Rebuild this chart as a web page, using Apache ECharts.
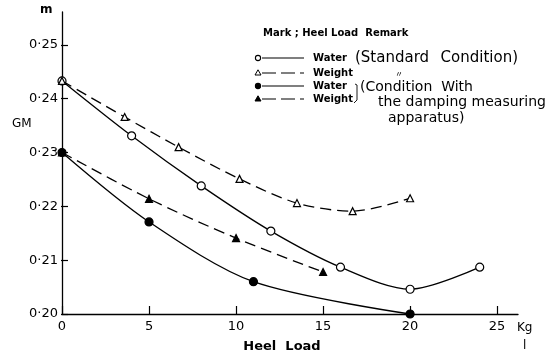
<!DOCTYPE html>
<html><head><meta charset="utf-8">
<script src="https://cdn.jsdelivr.net/npm/echarts@6/dist/echarts.min.js"></script>
<style>html,body{margin:0;padding:0;background:#fff}#c{width:549px;height:357px}</style>
</head><body><div id="c"></div>
<script>
// Data
const waterStd = [[0,0.2433],[4,0.2331],[8,0.2238],[12,0.2154],[16,0.2087],[20,0.2046],[24,0.2087]];
const weightStd = [[0,0.2433],[3.6,0.2366],[6.7,0.2310],[10.2,0.2251],[13.5,0.2206],[16.7,0.2191],[20,0.2215]];
const waterDamp = [[0,0.2300],[5,0.2171],[11,0.2060],[20,0.2000]];
const weightDamp = [[0,0.2300],[5,0.2214],[10,0.2141],[15,0.2078]];
const xTicks = [0,5,10,15,20,25];
const yTicks = [0.20,0.21,0.22,0.23,0.24,0.25];

const FONT = 'DejaVu Sans';
const GRID = {left:62, right:31, top:12, bottom:43};
const W = 549, H = 357;
const X_MAX = 26.2, Y_MIN = 0.20, Y_MAX = 0.2561;
const chart = echarts.init(document.getElementById('c'));
const tri = 'path://M0,-10L8.66,5L-8.66,5Z';
function ser(name, data, dashed, symbol, filled, size){
  return {name, type:'line', data, smooth:0.3, clip:false,
    lineStyle:{color:'#000', width:1.3, type: dashed ? [11,6] : 'solid'},
    symbol, symbolSize:size, showAllSymbol:true,
    itemStyle:{color: filled ? '#000' : '#fff', borderColor:'#000', borderWidth:1.2},
    z: 3};
}
const legendRows = [
  {y:58, dashed:false, symbol:'circle', filled:false, label:'Water'},
  {y:73, dashed:true, symbol:'tri', filled:false, label:'Weight'},
  {y:86, dashed:false, symbol:'circle', filled:true, label:'Water'},
  {y:99, dashed:true, symbol:'tri', filled:true, label:'Weight'}
];
const graphics = [];
legendRows.forEach(r=>{
  graphics.push({type:'line', shape:{x1:262,y1:r.y,x2:304,y2:r.y},
    style:{stroke:'#000', lineWidth:1.2, lineDash: r.dashed ? [14,5] : null}});
  if(r.symbol==='circle'){
    graphics.push({type:'circle', shape:{cx:258,cy:r.y,r:2.6}, style:{fill:r.filled?'#000':'#fff', stroke:'#000', lineWidth:1.1}});
  } else {
    graphics.push({type:'polygon', shape:{points:[[258,r.y-3.2],[261,r.y+2],[255,r.y+2]]}, style:{fill:r.filled?'#000':'#fff', stroke:'#000', lineWidth:1}});
  }
  graphics.push({type:'text', x:313, y:r.y, style:{text:r.label, font:'bold 10px '+FONT, fill:'#000', verticalAlign:'middle'}});
});
graphics.push(
  {type:'text', x:263, y:33, style:{text:'Mark ; Heel Load  Remark', font:'bold 10px '+FONT, fill:'#000', verticalAlign:'middle'}},
  {type:'text', x:355, y:58, style:{text:'(Standard', font:'15px '+FONT, fill:'#000', verticalAlign:'middle'}},
  {type:'text', x:518, y:58, style:{text:'Condition)', font:'15px '+FONT, fill:'#000', verticalAlign:'middle', align:'right'}},
  {type:'text', x:395, y:74, style:{text:'〃', font:'8px "Noto Sans CJK SC"', fill:'#000', verticalAlign:'middle'}},
  {type:'text', x:360, y:87, style:{text:'(Condition  With', font:'14px '+FONT, fill:'#000', verticalAlign:'middle'}},
  {type:'text', x:546, y:102, style:{text:'the damping measuring', font:'14px '+FONT, fill:'#000', verticalAlign:'middle', align:'right'}},
  {type:'text', x:388, y:118, style:{text:'apparatus)', font:'14px '+FONT, fill:'#000', verticalAlign:'middle'}},
  {type:'polyline', shape:{points:[[355,84],[357,85],[357,100],[354,103]]}, style:{stroke:'#000', lineWidth:0.9, fill:null}},
  {type:'text', x:40, y:10, style:{text:'m', font:'bold 12px '+FONT, fill:'#000', verticalAlign:'middle'}},
  {type:'text', x:12, y:124, style:{text:'GM', font:'12px '+FONT, fill:'#000', verticalAlign:'middle'}},
  {type:'text', x:282, y:347, style:{text:'Heel  Load', font:'bold 13px '+FONT, fill:'#000', verticalAlign:'middle', align:'center'}},
  {type:'text', x:517, y:328, style:{text:'Kg', font:'12px '+FONT, fill:'#000', verticalAlign:'middle'}},
  {type:'text', x:523, y:346, style:{text:'l', font:'12px '+FONT, fill:'#000', verticalAlign:'middle'}}
);

const xBase = {type:'value', min:0, max:X_MAX, interval:5, splitLine:{show:false}};
const yBase = {type:'value', min:Y_MIN, max:Y_MAX, interval:0.01, splitLine:{show:false}};
const plotBottom = H - GRID.bottom;
const gridW = W - GRID.left - GRID.right, gridH = H - GRID.top - GRID.bottom;
const xLast = xTicks[xTicks.length-1], yLast = yTicks[yTicks.length-1];
// tick-strip grids end exactly at the last tick so no extra tick appears at the axis end
const tickRight = W - (GRID.left + gridW * xLast / X_MAX);
const tickTop = GRID.top + gridH * (Y_MAX - yLast) / (Y_MAX - Y_MIN);

chart.setOption({
  animation:false,
  backgroundColor:'#fff',
  grid:[
    Object.assign({containLabel:false}, GRID),
    {left:GRID.left, right:tickRight, top:plotBottom, height:1, containLabel:false},
    {left:GRID.left-1, width:1, top:tickTop, bottom:GRID.bottom, containLabel:false}
  ],
  xAxis:[
    Object.assign({}, xBase, {gridIndex:0, position:'bottom',
      axisLine:{show:true, lineStyle:{color:'#000', width:1.3}},
      axisTick:{show:false},
      axisLabel:{color:'#000', fontFamily:FONT, fontSize:13, margin:6, showMaxLabel:false,
        formatter:v=>String(v)}}),
    Object.assign({}, xBase, {gridIndex:1, position:'top', max:xLast,
      axisLine:{show:false}, axisLabel:{show:false},
      axisTick:{show:true, inside:false, length:8, lineStyle:{color:'#000', width:1.2}}}),
    Object.assign({}, xBase, {gridIndex:2, show:false})
  ],
  yAxis:[
    Object.assign({}, yBase, {gridIndex:0, position:'left',
      axisLine:{show:true, lineStyle:{color:'#000', width:1.3}},
      axisTick:{show:false},
      axisLabel:{color:'#000', fontFamily:FONT, fontSize:13, margin:4, showMaxLabel:false,
        formatter:v=>v.toFixed(2).replace('.','·')}}),
    Object.assign({}, yBase, {gridIndex:1, show:false}),
    Object.assign({}, yBase, {gridIndex:2, position:'right', max:yLast,
      axisLine:{show:false}, axisLabel:{show:false},
      axisTick:{show:true, inside:false, length:7, lineStyle:{color:'#000', width:1.2}}})
  ],
  series:[
    ser('Water (Standard)', waterStd, false, 'circle', false, 8),
    ser('Weight (Standard)', weightStd, true, tri, false, 7),
    ser('Water (Damping)', waterDamp, false, 'circle', true, 8),
    ser('Weight (Damping)', weightDamp, true, tri, true, 7)
  ],
  graphic: graphics
});
</script></body></html>
